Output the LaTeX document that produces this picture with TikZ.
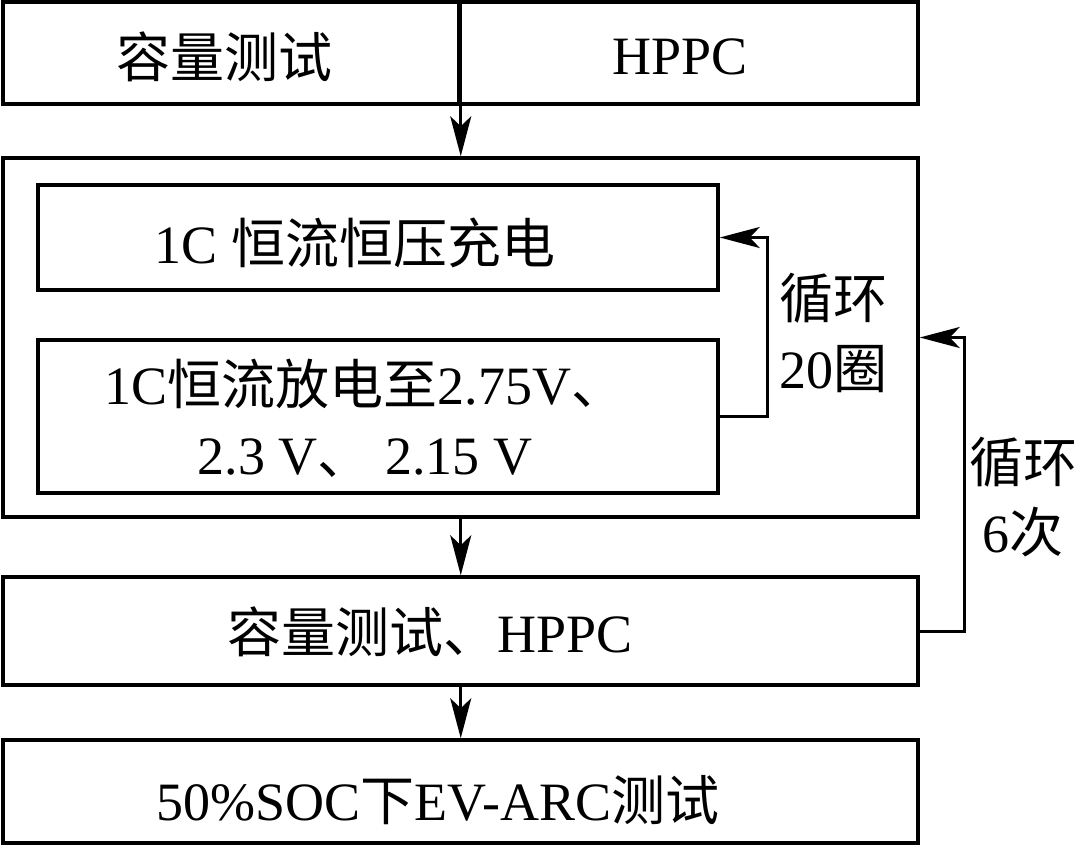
\documentclass[tikz,border=0pt]{standalone}
\usepackage{fontspec}
\setmainfont{Liberation Serif}
\newfontfamily\zh{Noto Sans CJK SC}
\usetikzlibrary{arrows.meta}
\begin{document}
\begin{tikzpicture}[x=1pt,y=-1pt,
  box/.style={draw, line width=3.5pt, rectangle, inner sep=0pt},
  txt/.style={inner sep=0pt, font=\fontsize{54}{70}\selectfont, align=center},
  arr/.style={line width=3pt, -{Stealth[length=40pt,width=21pt,inset=10pt]}},
  lnk/.style={line width=3pt}]
\useasboundingbox (0,0) rectangle (1080,846);
% boxes
\node[box, minimum width=456pt, minimum height=102pt] (topL) at (231,53) {};
\node[box, minimum width=459pt, minimum height=102pt] (topR) at (688.5,53) {};
\node[box, minimum width=915pt, minimum height=359pt] (outer) at (460.5,337.5) {};
\node[box, minimum width=680pt, minimum height=105pt] (in1) at (378,237.5) {};
\node[box, minimum width=680pt, minimum height=153pt] (in2) at (378,416.5) {};
\node[box, minimum width=915pt, minimum height=108pt] (b3) at (460.5,631) {};
\node[box, minimum width=915pt, minimum height=103pt] (b4) at (460.5,791.5) {};
% texts
\node[txt] (t1) at (224,57) {\zh 容量测试};
\node[txt] (t2) at (680,57) {HPPC};
\node[txt] (t3) at (355,243) {1C {\zh 恒流恒压充电}};
\node[txt] (t4) at (365,418) {1C{\zh 恒流放电至}2.75V{\zh 、}\\2.3 V{\zh 、} 2.15 V};
\node[txt] (t5) at (430,632) {{\zh 容量测试、}HPPC};
\node[txt] (t6) at (438,800) {50\%SOC{\zh 下}EV-ARC{\zh 测试}};
\node[txt] (l1) at (833,333) {{\zh 循环}\\20{\zh 圈}};
\node[txt] (l2) at (1023,497) {{\zh 循环}\\6{\zh 次}};
% connectors
\draw[arr] (topL.north east) -- (topL.north east |- outer.north);
\draw[arr] (outer.south -| topL.east) -- (b3.north -| topL.east);
\draw[arr] (b3.south -| topL.east) -- (b4.north -| topL.east);
\draw[arr] (in2.east) -- ++(48,0) |- (in1.east);
\draw[arr] (b3.east) -- ++(45,0) |- (outer.east);
\end{tikzpicture}
\end{document}
